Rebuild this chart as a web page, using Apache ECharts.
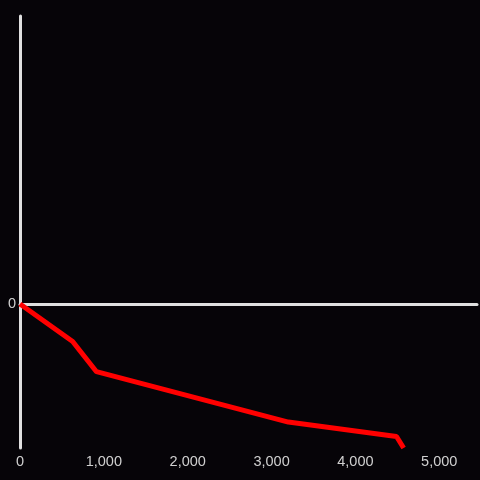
<!DOCTYPE html>
<html>
<head>
<meta charset="utf-8">
<script src="https://cdn.jsdelivr.net/npm/echarts@6/dist/echarts.min.js"></script>
<style>
  html, body { margin: 0; padding: 0; background: #060408; }
  #chart { width: 480px; height: 480px; }
</style>
</head>
<body>
<div id="chart"></div>
<script>
// data
const xValues = [0, 628, 912, 3200, 4490, 4575]
const yValues = [0, -0.26, -0.47, -0.82, -0.92, -1.0]
const xTicks = [0, 1000, 2000, 3000, 4000, 5000]

const chart = echarts.init(document.getElementById('chart'))

const xMin = 0
const xMax = 5450

chart.setOption({
  backgroundColor: '#060408',
  animation: false,
  grid: { left: 20, right: 0, top: 16, bottom: 32 },
  xAxis: [
    {
      type: 'value',
      min: xMin,
      max: xMax,
      interval: 1000,
      axisLine: { show: false, onZero: false },
      axisTick: { show: false },
      splitLine: { show: false },
      axisLabel: {
        color: '#d0d0d0',
        fontSize: 14.5,
        fontFamily: 'Liberation Sans',
        margin: 6,
        formatter: v => xTicks.includes(v) ? v.toLocaleString('en-US') : ''
      }
    },
    {
      // zero line
      type: 'value',
      position: 'bottom',
      min: xMin,
      max: xMax,
      axisLine: { show: true, onZero: true, lineStyle: { color: '#e0e0e0', width: 3 } },
      axisTick: { show: false },
      axisLabel: { show: false },
      splitLine: { show: false }
    }
  ],
  yAxis: {
    type: 'value',
    min: -1,
    max: 2,
    interval: 1,
    axisLine: { show: true, onZero: false, lineStyle: { color: '#e0e0e0', width: 3 } },
    axisTick: { show: false },
    splitLine: { show: false },
    axisLabel: {
      color: '#d0d0d0',
      fontSize: 14.5,
      fontFamily: 'Liberation Sans',
      margin: 4,
      formatter: v => v === 0 ? '0' : ''
    }
  },
  series: [
    {
      type: 'line',
      data: xValues.map((x, i) => [x, yValues[i]]),
      symbol: 'none',
      clip: false,
      lineStyle: { color: '#ff0000', width: 5 },
      z: 3
    }
  ]
})
</script>
</body>
</html>
